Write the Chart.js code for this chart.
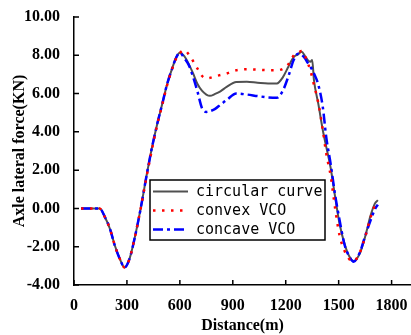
<!DOCTYPE html>
<html>
<head>
<meta charset="utf-8">
<script src="https://cdn.jsdelivr.net/npm/chart.js@4.4.1/dist/chart.umd.min.js"></script>
<style>
  html, body { margin: 0; padding: 0; background: #fff; }
  #wrap { width: 411px; height: 335px; }
</style>
</head>
<body>
<div id="wrap"><canvas id="chart-slot" width="411" height="335"></canvas></div>
<script>
// distance along the line (m)
const distance = [40, 100, 145, 175, 205, 230, 258, 287, 315, 345, 378, 410, 440, 470, 500, 525, 555, 580,
  600, 625, 650, 675, 700, 725, 750, 770, 800, 830, 865, 920, 980, 1040, 1100, 1150, 1185, 1215, 1245,
  1270, 1290, 1310, 1325, 1340, 1350, 1360, 1385, 1410, 1430, 1455, 1480, 1505, 1535, 1560, 1585, 1620,
  1650, 1680, 1705, 1722];

// axle lateral force (KN)
const circularCurve = [0, 0, 0, -0.45, -1.1, -1.9, -2.6, -3.08, -2.62, -1.5, 0, 1.65, 3.1, 4.35, 5.45, 6.4, 7.28, 7.9,
  8.13, 7.95, 7.55, 7.05, 6.5, 6.15, 5.95, 5.88, 5.98, 6.12, 6.35, 6.6, 6.62, 6.57, 6.53, 6.53, 6.87, 7.4, 7.9,
  8.05, 8.18, 7.95, 7.75, 7.66, 7.75, 6.7, 5.45, 4.1, 3.2, 2.1, 0.6, -0.8, -1.9, -2.5, -2.75, -2.35,
  -1.48, -0.4, 0.25, 0.43];

const convexVCO = [0, 0, 0, -0.45, -1.1, -1.9, -2.6, -3.08, -2.62, -1.5, 0, 1.6, 3.0, 4.3, 5.4, 6.35, 7.25, 7.85,
  8.12, 8.27, 8.05, 7.7, 7.3, 6.93, 6.79, 6.82, 6.9, 6.97, 7.05, 7.22, 7.27, 7.25, 7.22, 7.22, 7.3, 7.53, 7.98,
  8.12, 8.22, 7.95, 7.6, 7.2, 6.85, 6.45, 5.5, 4.1, 2.85, 1.7, 0.0, -1.4, -2.25, -2.65, -2.75, -2.3,
  -1.5, -0.5, 0.15, 0.38];

const concaveVCO = [0, 0, 0, -0.45, -1.1, -1.9, -2.6, -3.08, -2.62, -1.5, 0, 1.65, 3.1, 4.35, 5.45, 6.4, 7.28, 7.9,
  8.13, 7.85, 7.5, 6.87, 6.1, 5.25, 5.04, 5.08, 5.2, 5.42, 5.66, 6.0, 5.95, 5.87, 5.8, 5.78, 6.18, 6.9, 7.75,
  8.08, 8.02, 7.83, 7.6, 7.4, 7.25, 7.05, 6.45, 5.3, 3.7, 2.3, 0.7, -0.6, -1.95, -2.5, -2.78, -2.3,
  -1.45, -0.65, -0.05, 0.2];

const xTickStep = 300;
const yTicks = [-4, -2, 0, 2, 4, 6, 8, 10];

const toPoints = vals => distance.map((d, i) => ({ x: d, y: vals[i] }));
const serif = "'Liberation Serif', 'Times New Roman', serif";

// ticks pointing into the plot
const innerTicks = {
  id: 'innerTicks',
  afterDraw(chart) {
    const { ctx, chartArea, scales } = chart;
    ctx.save();
    ctx.strokeStyle = '#000';
    ctx.lineWidth = 1.5;
    ctx.beginPath();
    scales.x.ticks.forEach(t => {
      const px = scales.x.getPixelForValue(t.value);
      ctx.moveTo(px, chartArea.bottom);
      ctx.lineTo(px, chartArea.bottom - 5);
    });
    scales.y.ticks.forEach(t => {
      const py = scales.y.getPixelForValue(t.value);
      ctx.moveTo(chartArea.left, py);
      ctx.lineTo(chartArea.left + 5, py);
    });
    ctx.stroke();
    ctx.restore();
  }
};

// boxed legend inside the plot
const boxLegend = {
  id: 'boxLegend',
  afterDraw(chart) {
    const { ctx, chartArea } = chart;
    const x0 = chartArea.left + 76, y0 = chartArea.top + 163;
    const w = 175, h = 60, row = 19;
    ctx.save();
    ctx.fillStyle = '#fff';
    ctx.fillRect(x0, y0, w, h);
    ctx.strokeStyle = '#000';
    ctx.lineWidth = 1.5;
    ctx.setLineDash([]);
    ctx.strokeRect(x0, y0, w, h);
    ctx.font = "15px 'DejaVu Sans Mono', monospace";
    ctx.textBaseline = 'middle';
    chart.data.datasets.forEach((ds, i) => {
      const yy = y0 + 11.5 + i * row;
      ctx.beginPath();
      ctx.strokeStyle = ds.borderColor;
      ctx.lineWidth = ds.borderWidth;
      ctx.setLineDash(ds.borderDash || []);
      ctx.moveTo(x0 + 3, yy);
      ctx.lineTo(x0 + 38, yy);
      ctx.stroke();
      ctx.setLineDash([]);
      ctx.fillStyle = '#000';
      ctx.fillText(ds.label, x0 + 46, yy + 1);
    });
    ctx.restore();
  }
};

new Chart(document.getElementById('chart-slot'), {
  type: 'line',
  data: {
    datasets: [{
      label: 'circular curve',
      data: toPoints(circularCurve),
      borderColor: '#505050',
      borderWidth: 2,
      order: 3
    }, {
      label: 'convex VCO',
      data: toPoints(convexVCO),
      borderColor: '#ff0000',
      borderWidth: 2.5,
      borderDash: [2.5, 6.5],
      order: 1
    }, {
      label: 'concave VCO',
      data: toPoints(concaveVCO),
      borderColor: '#0000ff',
      borderWidth: 2.5,
      borderDash: [10, 4, 3, 4],
      order: 2
    }]
  },
  options: {
    responsive: false,
    animation: false,
    layout: { padding: { top: 17, right: 0, left: 0, bottom: 0 } },
    elements: {
      point: { radius: 0 },
      line: { tension: 0.4, cubicInterpolationMode: 'monotone', fill: false }
    },
    plugins: { legend: { display: false }, tooltip: { enabled: false } },
    scales: {
      x: {
        type: 'linear',
        min: 0,
        max: 1910,
        afterFit: s => { s.height = 50; },
        afterBuildTicks: s => { s.ticks = s.ticks.filter(t => t.value % xTickStep === 0); },
        grid: { display: false },
        border: { display: true, color: '#000', width: 1.5 },
        ticks: {
          stepSize: xTickStep,
          includeBounds: false,
          maxRotation: 0,
          padding: 3,
          color: '#000',
          callback: v => String(v),
          font: { family: serif, size: 16, weight: 'bold' }
        },
        title: {
          display: true,
          text: 'Distance(m)',
          color: '#000',
          padding: { top: 0, bottom: 0 },
          font: { family: serif, size: 16, weight: 'bold' }
        }
      },
      y: {
        min: -4,
        max: 10,
        afterFit: s => { s.width = 74; },
        afterBuildTicks: s => { s.ticks = yTicks.map(v => ({ value: v })); },
        grid: { display: false },
        border: { display: true, color: '#000', width: 1.5 },
        ticks: {
          padding: 6,
          color: '#000',
          callback: v => v.toFixed(2),
          font: { family: serif, size: 16, weight: 'bold' }
        },
        title: {
          display: true,
          text: 'Axle lateral force(KN)',
          color: '#000',
          padding: { top: 10, bottom: 0 },
          font: { family: serif, size: 16, weight: 'bold' }
        }
      }
    }
  },
  plugins: [innerTicks, boxLegend]
});
</script>
</body>
</html>
